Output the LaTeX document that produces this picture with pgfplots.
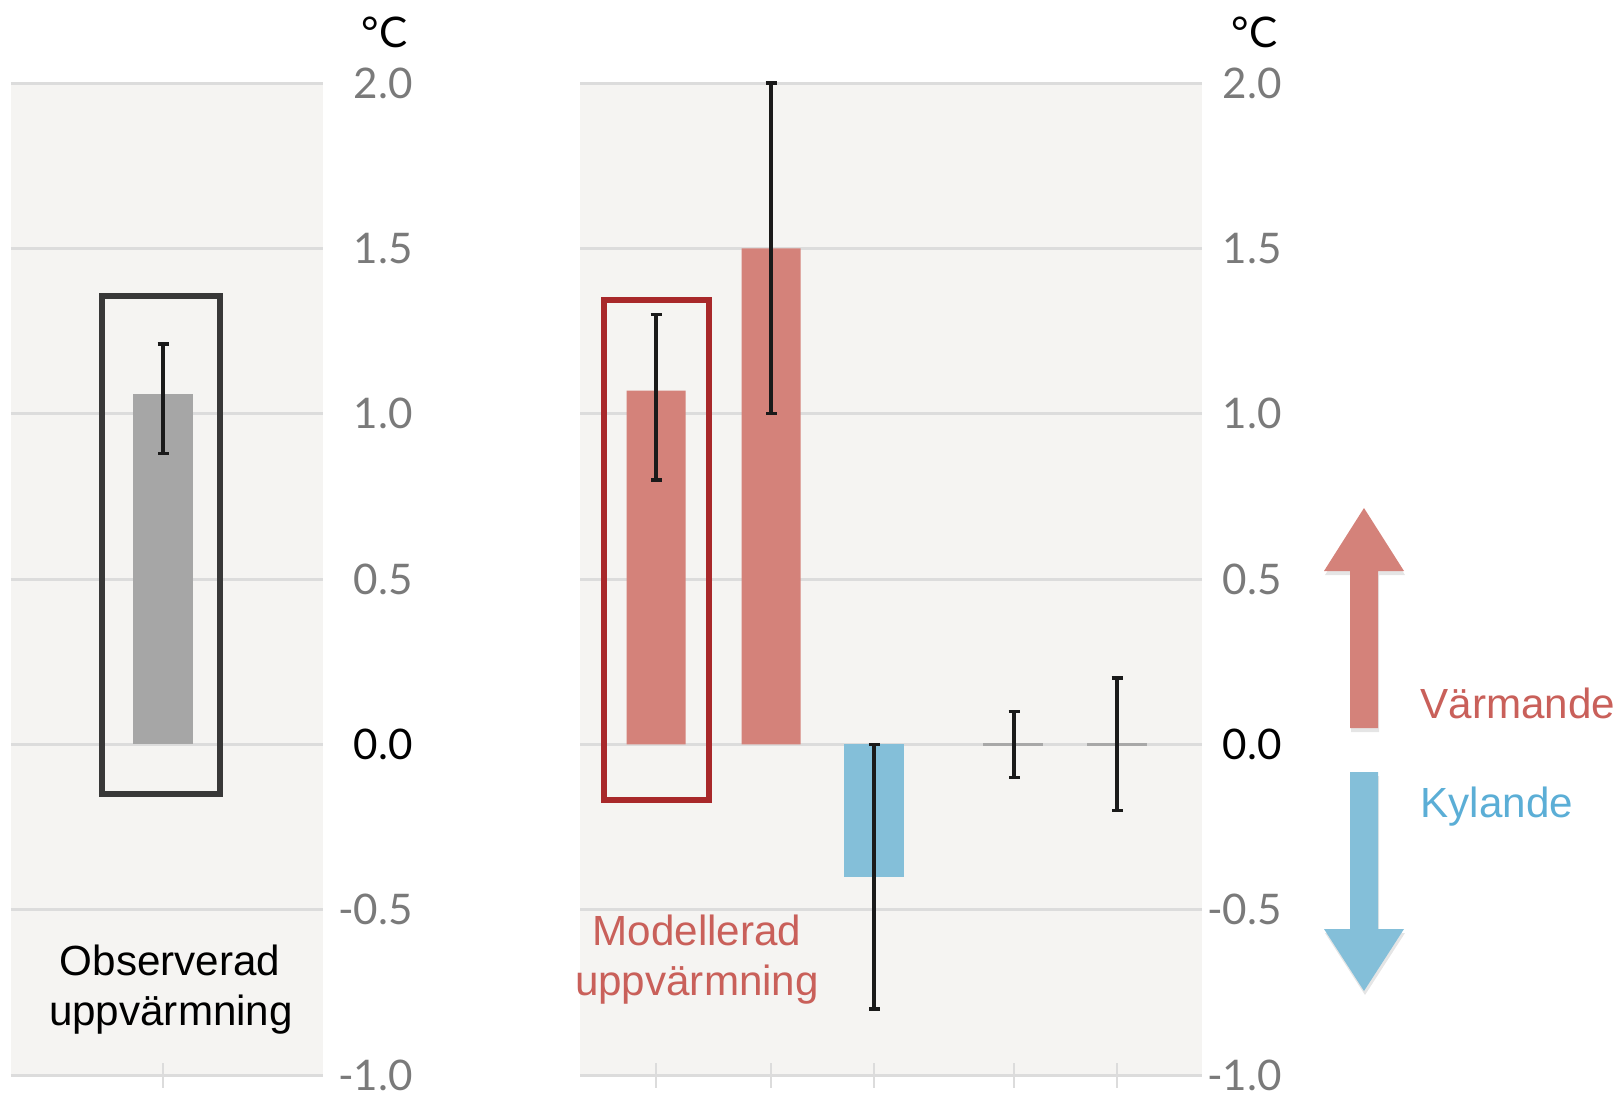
\documentclass[border=0pt]{standalone}
\usepackage{pgfplots}
\pgfplotsset{compat=1.18}
\usepackage{fontspec}
\setmainfont{Liberation Sans}
\newfontfamily\lato{Lato}
\definecolor{bgcol}{HTML}{F5F4F2}
\definecolor{gridcol}{HTML}{DCDCDC}
\definecolor{tickgray}{HTML}{7A7A7A}
\definecolor{barred}{HTML}{D4827A}
\definecolor{barblue}{HTML}{84BFD9}
\definecolor{bargray}{HTML}{A6A6A6}
\definecolor{boxred}{HTML}{A8282A}
\definecolor{boxdark}{HTML}{383838}
\definecolor{txtred}{HTML}{C9605A}
\definecolor{txtblue}{HTML}{5BAED6}
\definecolor{zerogray}{HTML}{A8A8A8}
\definecolor{errcol}{HTML}{1A1A1A}
\pgfplotsset{
  panel/.style={
    scale only axis,
    anchor=south west,
    height=99.2mm,
    ymin=-1, ymax=2,
    axis background/.style={fill=bgcol},
    axis line style={draw=none},
    ytick={-1,-0.5,0,0.5,1,1.5,2},
    yticklabels={-1.0,-0.5,{\color{black}0.0},0.5,1.0,1.5,2.0},
    ytick pos=right, yticklabel pos=right,
    ytick style={draw=none},
    ymajorgrids,
    grid style={draw=gridcol, line width=0.85pt},
    yticklabel style={font=\lato\fontsize{12}{14}\selectfont, text=tickgray, anchor=east, inner sep=0pt},
    xtick pos=lower,
    xticklabels={},
    xtick style={draw=gridcol, line width=0.7pt},
    major tick length=2.5mm,
    tick align=center,
    clip=false,
  },
  ebar/.style={error bars/.cd, y dir=both, y explicit,
    error bar style={draw=errcol, line width=1.1pt},
    error mark options={draw=errcol, line width=1.0pt, mark size=0.55mm, rotate=90}},
}
\begin{document}
\begin{tikzpicture}
\useasboundingbox (0,0) rectangle (161.9mm,109.3mm);
% left panel
\begin{axis}[panel, at={(1.1mm,1.8mm)}, width=31.2mm, xmin=11, xmax=323,
  xtick={163}, yticklabel style={xshift=7.8mm}]
\addplot[ybar, bar width=60, bar shift=0pt, fill=bargray, draw=none, ebar]
  coordinates {(163,1.06) += (0,0.15) -= (0,0.18)};
\draw[boxdark, line width=0.6mm] (axis cs:102,1.355) rectangle (axis cs:220,-0.151);
\node[anchor=east, inner sep=0pt, font=\lato\fontsize{12}{14}\selectfont] at (axis cs:408,2.154) {°C};
\end{axis}
% right panel
\begin{axis}[panel, at={(58.0mm,1.8mm)}, width=62.2mm, xmin=580, xmax=1202,
  xtick={656,771,874,1014,1117}, yticklabel style={xshift=6.8mm}]
\addplot[ybar, bar width=59, bar shift=0pt, fill=barred, draw=none, ebar]
  coordinates {(656,1.07) += (0,0.23) -= (0,0.27)
               (771,1.5) += (0,0.5) -= (0,0.5)};
\addplot[ybar, bar width=60, bar shift=0pt, fill=barblue, draw=none, ebar]
  coordinates {(874,-0.4) += (0,0.4) -= (0,0.4)};
\addplot[zerogray, line width=0.85pt, forget plot] coordinates {(983,0) (1043,0)};
\addplot[zerogray, line width=0.85pt, forget plot] coordinates {(1087,0) (1147,0)};
\addplot[ybar, bar width=60, bar shift=0pt, fill=none, draw=none, ebar]
  coordinates {(1014,0) += (0,0.1) -= (0,0.1)
               (1117,0) += (0,0.2) -= (0,0.2)};
\draw[boxred, line width=0.6mm] (axis cs:604,1.343) rectangle (axis cs:709,-0.169);
\node[anchor=east, inner sep=0pt, font=\lato\fontsize{12}{14}\selectfont] at (axis cs:1278,2.154) {°C};
\end{axis}
% labels
\begin{scope}[every node/.style={inner sep=0pt, font=\fontsize{12}{14}\selectfont}]
\node[anchor=base] at (17.0mm,11.8mm) {Observerad};
\node[anchor=base] at (17.1mm,6.8mm) {uppvärmning};
\node[anchor=base, text=txtred] at (69.7mm,14.8mm) {Modellerad};
\node[anchor=base, text=txtred] at (69.7mm,9.8mm) {uppvärmning};
\node[anchor=base west, text=txtred] at (142.0mm,37.5mm) {Värmande};
\node[anchor=base west, text=txtblue] at (142.0mm,27.6mm) {Kylande};
\end{scope}
% arrows
\begin{scope}[x=1mm,y=1mm]
\fill[black, opacity=0.10] (135.1,36.1) -- (135.1,51.8) -- (132.5,51.8) -- (136.5,58.1) -- (140.5,51.8) -- (137.9,51.8) -- (137.9,36.1) -- cycle;
\fill[barred] (135.0,36.5) -- (135.0,52.2) -- (132.4,52.2) -- (136.4,58.5) -- (140.4,52.2) -- (137.8,52.2) -- (137.8,36.5) -- cycle;
\fill[black, opacity=0.10] (135.1,31.7) -- (135.1,16.0) -- (132.5,16.0) -- (136.5,9.8) -- (140.5,16.0) -- (137.9,16.0) -- (137.9,31.7) -- cycle;
\fill[barblue] (135.0,32.1) -- (135.0,16.4) -- (132.4,16.4) -- (136.4,10.2) -- (140.4,16.4) -- (137.8,16.4) -- (137.8,32.1) -- cycle;
\end{scope}
\end{tikzpicture}
\end{document}
